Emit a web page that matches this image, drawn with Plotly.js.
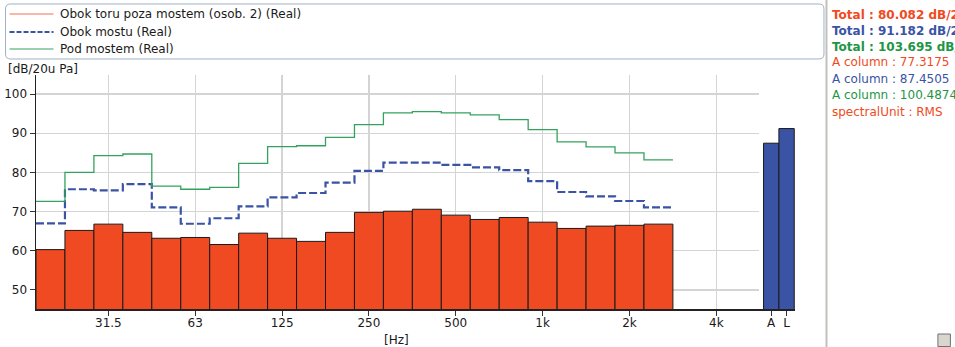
<!DOCTYPE html>
<html>
<head>
<meta charset="utf-8">
<script src="https://cdn.plot.ly/plotly-3.0.1.min.js"></script>
<style>
html,body{margin:0;padding:0;background:#fff;overflow:hidden;}
#chart{width:955px;height:347px;}
</style>
</head>
<body>
<div id="chart"></div>
<script>
// ---- data ----
const bands = ['20','25','31.5','40','50','63','80','100','125','160','200','250','315','400','500','630','800','1k','1.25k','1.6k','2k','2.5k'];
const axisBands = ['20','25','31.5','40','50','63','80','100','125','160','200','250','315','400','500','630','800','1k','1.25k','1.6k','2k','2.5k','3.15k','4k','5k'];
const tickLabels = ['31.5','63','125','250','500','1k','2k','4k'];
const seriesNames = ['Obok toru poza mostem (osob. 2) (Real)','Obok mostu (Real)','Pod mostem (Real)'];
const obokToru  = [60.3,65.2,66.8,64.7,63.2,63.4,61.6,64.5,63.2,62.4,64.7,69.8,70.1,70.6,69.1,68.0,68.5,67.3,65.7,66.3,66.5,66.8];
const obokMostu = [67.0,75.7,75.4,77.0,71.1,66.9,68.3,71.35,73.65,74.75,77.4,80.4,82.5,82.5,81.9,81.3,80.6,77.8,75.0,73.9,72.7,71.1];
const podMostem = [72.6,80.0,84.3,84.7,76.5,75.7,76.2,82.3,86.6,86.8,88.95,92.2,95.2,95.5,95.2,94.7,93.45,90.9,87.8,86.5,85.0,83.2];
const sumLabels = ['A','L'];
const sumValues = [87.4505,91.182];
const yTicks = [50,60,70,80,90,100];
const infoLines = [
  'Total : 80.082 dB/20u Pa',
  'Total : 91.182 dB/20u Pa',
  'Total : 103.695 dB/20u Pa',
  'A column : 77.3175',
  'A column : 87.4505',
  'A column : 100.4874',
  'spectralUnit : RMS'
];
const yUnit = '[dB/20u Pa]';
const xUnit = '[Hz]';

// ---- geometry helpers (pixel -> paper) ----
const W = 955, H = 347;
const L = 35.5, R = 795, T = 75, B = 309;
const px = v => (v - L) / (R - L);
const py = v => (B - v) / (B - T);

const RED = '#f04a22', BLUE = '#3a53a4', GREEN = '#34a25e';
const FONT = 'DejaVu Sans, Verdana, sans-serif';

const idx = bands.map((b,i)=>i);
// step lines: band left edges + final right edge
const stepX = idx.map(i=>i-0.5).concat([bands.length-0.5]);
const stepY = arr => arr.concat([arr[arr.length-1]]);

const traces = [
  {type:'bar', x: idx, y: obokToru, width: 1, name: seriesNames[0], showlegend:false,
   marker:{color:RED, line:{color:'#1a1a1a', width:1}}, xaxis:'x', yaxis:'y', hoverinfo:'y'},
  {type:'scatter', mode:'lines', x: stepX, y: stepY(obokMostu), name: seriesNames[1], showlegend:false,
   line:{shape:'hv', color:BLUE, width:2.2, dash:'8px,3px'}, xaxis:'x', yaxis:'y'},
  {type:'scatter', mode:'lines', x: stepX, y: stepY(podMostem), name: seriesNames[2], showlegend:false,
   line:{shape:'hv', color:GREEN, width:1.3}, xaxis:'x', yaxis:'y'},
  {type:'bar', x: sumLabels, y: sumValues, width: 1, showlegend:false,
   marker:{color:BLUE, line:{color:'#1a1a1a', width:1}}, xaxis:'x2', yaxis:'y2'}
];

const splitFrac = px(759.3);
const bandPx = 28.97;
const xMax = (759.3 - L)/bandPx - 0.5;

const shapes = [];
const annotations = [];

// legend box (rounded)
(function(){
  const x0=5, x1=824, y0=4, y1=59, r=5;
  const path = `M ${x0+r} ${y0} L ${x1-r} ${y0} Q ${x1} ${y0} ${x1} ${y0+r} L ${x1} ${y1-r} Q ${x1} ${y1} ${x1-r} ${y1} L ${x0+r} ${y1} Q ${x0} ${y1} ${x0} ${y1-r} L ${x0} ${y0+r} Q ${x0} ${y0} ${x0+r} ${y0} Z`;
  const conv = path.replace(/(-?\d+(?:\.\d+)?) (-?\d+(?:\.\d+)?)/g, (m,a,b)=>`${px(+a).toFixed(5)} ${py(+b).toFixed(5)}`);
  shapes.push({type:'path', xref:'paper', yref:'paper', path: conv, line:{color:'#9fb1c8', width:1}, fillcolor:'rgba(0,0,0,0)', layer:'above'});
})();
const legY = [14, 32, 49];
const legStyles = [
  {color:'#f5a08c', width:1.5, dash:'solid'},
  {color:BLUE, width:2.2, dash:'5px,2px'},
  {color:GREEN, width:1.2, dash:'solid'}
];
seriesNames.forEach((n,i)=>{
  shapes.push({type:'line', xref:'paper', yref:'paper', x0:px(9), x1:px(53), y0:py(legY[i]), y1:py(legY[i]), line:legStyles[i], layer:'above'});
  annotations.push({xref:'paper', yref:'paper', x:px(58), y:py(legY[i]), xanchor:'left', yanchor:'middle', text:n, showarrow:false, font:{family:FONT, size:12, color:'#1a1a1a'}});
});

// separator and right panel
shapes.push({type:'line', xref:'paper', yref:'paper', x0:px(826.5), x1:px(826.5), y0:py(0), y1:py(H), line:{color:'#c4c0b8', width:2}, layer:'above'});
const infoColors = [RED, BLUE, '#1e9646', RED, BLUE, '#1e9646', RED];
const infoY = [15, 31, 47, 62.5, 79, 95, 112];
infoLines.forEach((t,i)=>{
  annotations.push({xref:'paper', yref:'paper', x:px(830), y:py(infoY[i]), xanchor:'left', yanchor:'middle',
    text: i<3 ? '<b>'+t+'</b>' : t, showarrow:false, font:{family:FONT, size:12, color:infoColors[i]}});
});
// small grip square
shapes.push({type:'rect', xref:'paper', yref:'paper', x0:px(938), x1:px(950.5), y0:py(334), y1:py(346.5), fillcolor:'#d9d6cf', line:{color:'#707070', width:1}, layer:'above'});

// axis unit labels
annotations.push({xref:'paper', yref:'paper', x:px(5), y:py(69), xanchor:'left', yanchor:'middle', text:yUnit, showarrow:false, font:{family:FONT, size:12, color:'#1a1a1a'}});
annotations.push({xref:'paper', yref:'paper', x:px(396), y:py(340), xanchor:'center', yanchor:'middle', text:xUnit, showarrow:false, font:{family:FONT, size:12, color:'#1a1a1a'}});

const layout = {
  width: W, height: H,
  margin: {l: L, r: W - R, t: T, b: H - B, pad: 0},
  paper_bgcolor: '#fff', plot_bgcolor: '#fff',
  bargap: 0, showlegend: false,
  font: {family: FONT, size: 12, color: '#1a1a1a'},
  xaxis: {domain:[0, splitFrac], range:[-0.5, xMax], anchor:'y',
    tickvals: tickLabels.map(t=>axisBands.indexOf(t)), ticktext: tickLabels,
    ticks:'outside', ticklen:5, tickcolor:'#333', tickwidth:1, ticklabelstandoff:-3,
    showgrid:true, gridcolor:'#d4d4d4', gridwidth:1.3, zeroline:false,
    showline:true, linecolor:'#222', linewidth:1.5, fixedrange:true},
  yaxis: {domain:[0,1], range:[45.15, 104.85], anchor:'x', tickvals:yTicks,
    ticks:'outside', ticklen:5, tickcolor:'#333', tickwidth:1,
    showgrid:true, gridcolor:'#d4d4d4', gridwidth:1.3, zeroline:false,
    showline:true, linecolor:'#222', linewidth:1.5, fixedrange:true},
  xaxis2: {domain:[splitFrac, 1], anchor:'y2', type:'category', range:[-0.774, 1.548],
    tickvals: sumLabels, ticktext: sumLabels,
    ticks:'outside', ticklen:5, tickcolor:'#333', tickwidth:1, ticklabelstandoff:-3,
    showgrid:false, zeroline:false, showline:true, linecolor:'#222', linewidth:1.5, fixedrange:true},
  yaxis2: {domain:[0,1], matches:'y', range:[45.15, 104.85], anchor:'x2', showgrid:false, showticklabels:false,
    ticks:'', zeroline:false, showline:false, fixedrange:true},
  shapes: shapes,
  annotations: annotations
};

Plotly.newPlot('chart', traces, layout, {displayModeBar:false, staticPlot:true});
</script>
</body>
</html>
